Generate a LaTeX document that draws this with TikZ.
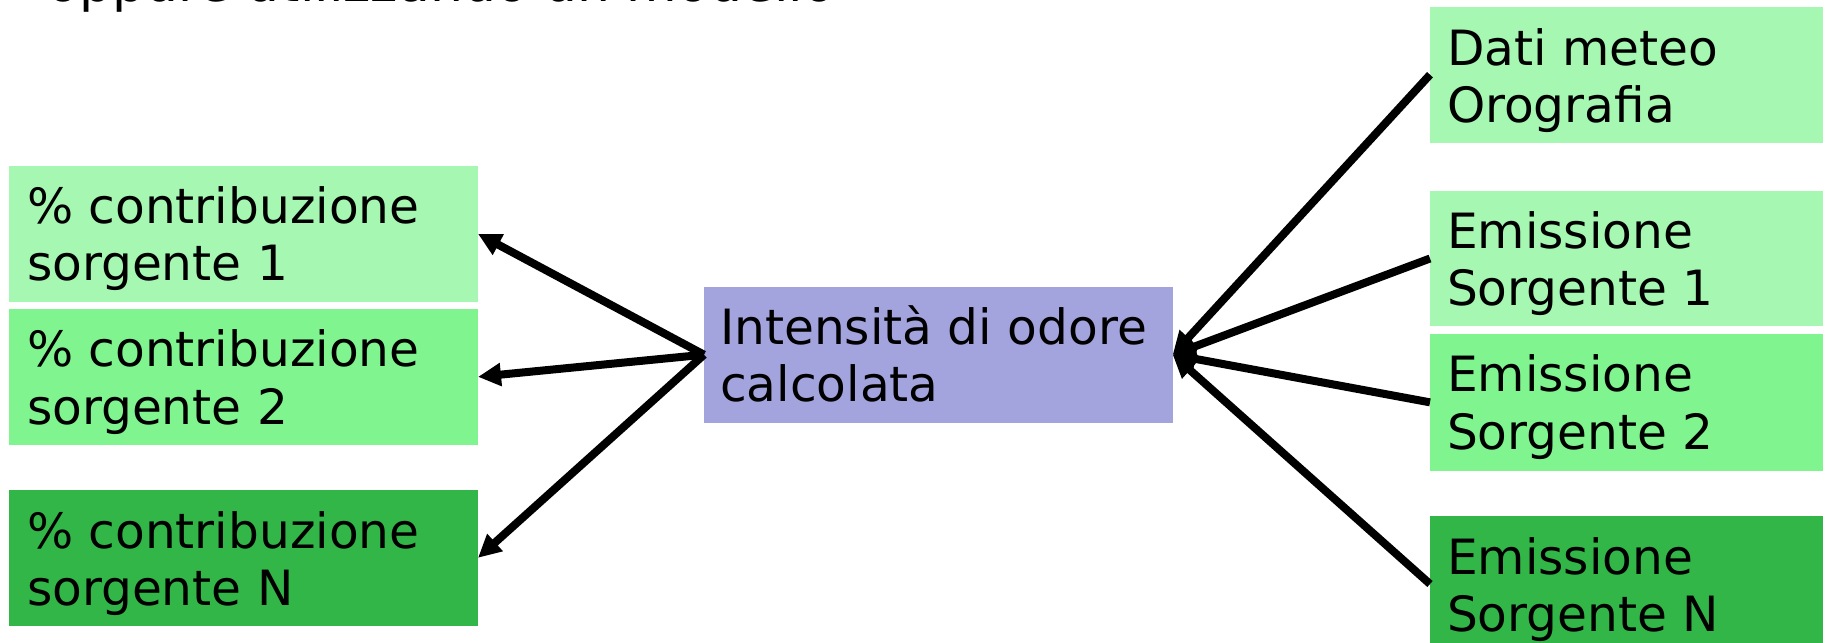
\documentclass[tikz,border=0pt]{standalone}
\usepackage{fontspec}
\setmainfont{DejaVu Sans}
\usetikzlibrary{arrows.meta}
\definecolor{paleGreen}{RGB}{166,247,178}
\definecolor{midGreen}{RGB}{128,245,143}
\definecolor{deepGreen}{RGB}{51,182,72}
\definecolor{lavender}{RGB}{163,163,222}
\begin{document}
\begin{tikzpicture}[x=0.5pt,y=-0.5pt,
  box/.style={rectangle,inner sep=0pt,outer sep=0pt,draw=none},
  lbl/.style={anchor=base west,inner sep=0pt,outer sep=0pt,font=\fontsize{24.3}{28.8}\selectfont},
  link/.style={line width=4pt},
  arr/.style={link,-{Triangle[length=11.5pt,width=11pt]}},
]
\useasboundingbox (0,0) rectangle (1828,643);
\clip (0,0) rectangle (1828,643);

% heading line running above the diagram
\node[anchor=base west,inner sep=0pt,font=\fontsize{26}{31}\selectfont] (title) at (47,1) {oppure utilizzando un modello};

% left column: source contributions
\node[box,fill=paleGreen,minimum width=234.5pt,minimum height=67.85pt] (c1) at (243.5,233.85) {};
\node[box,fill=midGreen,minimum width=234.5pt,minimum height=67.85pt] (c2) at (243.5,376.85) {};
\node[box,fill=deepGreen,minimum width=234.5pt,minimum height=67.85pt] (cN) at (243.5,557.85) {};
\node[lbl] (tc1) at (27,223.3) {\begin{tabular}[t]{@{}l@{}}\% contribuzione\\sorgente 1\end{tabular}};
\node[lbl] (tc2) at (27,366.7) {\begin{tabular}[t]{@{}l@{}}\% contribuzione\\sorgente 2\end{tabular}};
\node[lbl] (tcN) at (27,548.3) {\begin{tabular}[t]{@{}l@{}}\% contribuzione\\sorgente N\end{tabular}};

% centre: computed odour intensity
\node[box,fill=lavender,minimum width=234.35pt,minimum height=68pt] (ctr) at (938.35,354.7) {};
\node[lbl] (tctr) at (720,344) {\begin{tabular}[t]{@{}l@{}}Intensità di odore\\calcolata\end{tabular}};

% right column: model inputs
\node[box,fill=paleGreen,minimum width=196.5pt,minimum height=68pt] (dati) at (1626.5,74.7) {};
\node[box,fill=paleGreen,minimum width=196.5pt,minimum height=67.5pt] (e1) at (1626.5,258.5) {};
\node[box,fill=midGreen,minimum width=196.5pt,minimum height=68.35pt] (e2) at (1626.5,402.35) {};
\node[box,fill=deepGreen,minimum width=196.5pt,minimum height=68pt] (eN) at (1626.5,584) {};
\node[lbl] (tdati) at (1447,65) {\begin{tabular}[t]{@{}l@{}}Dati meteo\\Orografia\end{tabular}};
\node[lbl] (te1) at (1447,248.3) {\begin{tabular}[t]{@{}l@{}}Emissione\\Sorgente 1\end{tabular}};
\node[lbl] (te2) at (1447,391.7) {\begin{tabular}[t]{@{}l@{}}Emissione\\Sorgente 2\end{tabular}};
\node[lbl] (teN) at (1447,574) {\begin{tabular}[t]{@{}l@{}}Emissione\\Sorgente N\end{tabular}};

% arrows from the centre to the contributions
\draw[arr] (ctr.west) -- (c1.east);
\draw[arr] (ctr.west) -- (c2.east);
\draw[arr] (ctr.west) -- (cN.east);

% arrows from the inputs into the centre
\draw[arr] (dati.west) -- (ctr.east);
\draw[arr] (e1.west) -- (ctr.east);
\draw[arr] (e2.west) -- (ctr.east);
\draw[arr] (eN.west) -- (ctr.east);
\end{tikzpicture}
\end{document}
